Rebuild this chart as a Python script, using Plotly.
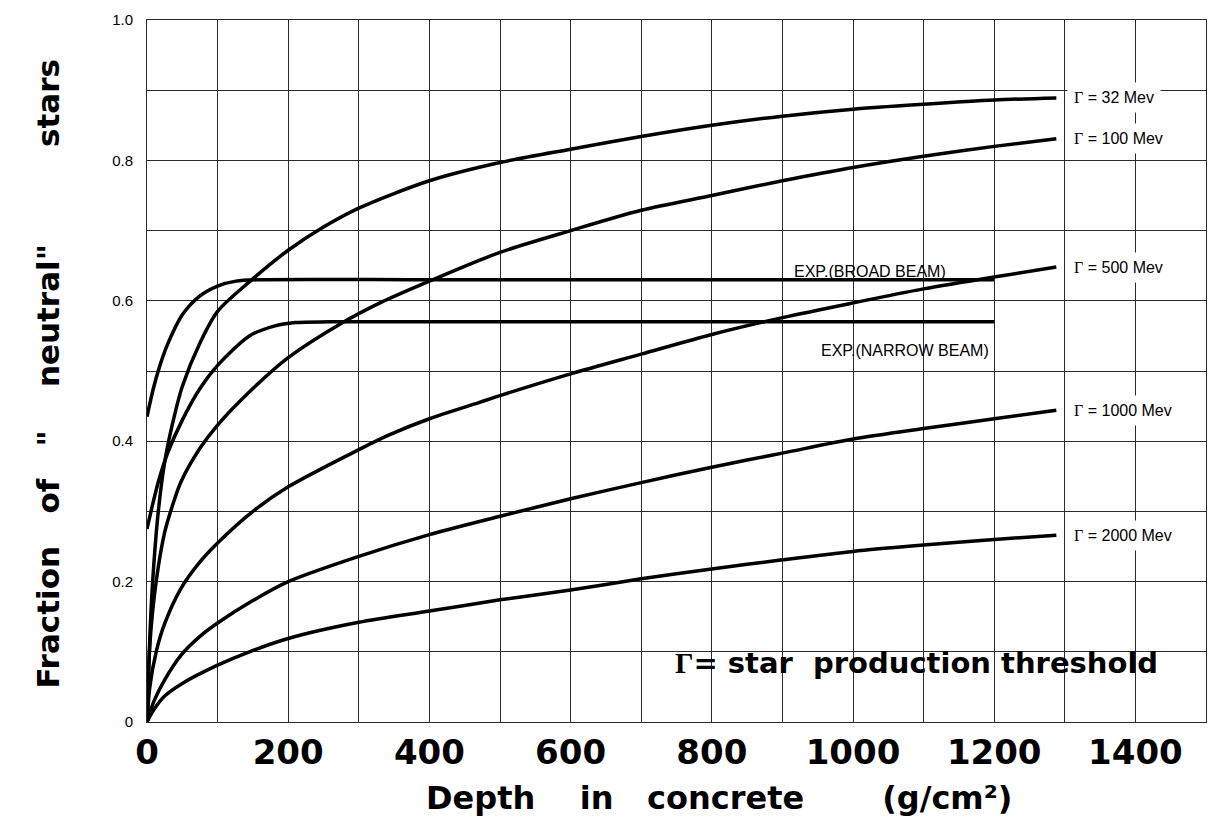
import plotly.graph_objects as go

# ---- data ----
depth_g32 = [0, 4, 8, 16, 25, 35, 50, 75, 100, 145, 200, 250, 300, 400, 500, 600, 700, 800, 900, 1000, 1100, 1200, 1288]
frac_g32 = [0, 0.12, 0.2, 0.3, 0.37, 0.42, 0.478, 0.54, 0.585, 0.627, 0.672, 0.705, 0.732, 0.771, 0.797, 0.816, 0.834, 0.850, 0.863, 0.873, 0.880, 0.886, 0.889]

depth_g100 = [0, 4, 13, 25, 35, 48, 75, 100, 150, 200, 272, 330, 400, 500, 600, 700, 800, 900, 1000, 1100, 1200, 1288]
frac_g100 = [0, 0.11, 0.2, 0.27, 0.305, 0.342, 0.39, 0.423, 0.475, 0.519, 0.566, 0.597, 0.628, 0.669, 0.700, 0.729, 0.750, 0.771, 0.790, 0.806, 0.820, 0.831]

depth_g500 = [0, 4, 13, 25, 48, 75, 100, 150, 200, 300, 343, 400, 470, 500, 600, 700, 800, 900, 1000, 1100, 1200, 1288]
frac_g500 = [0, 0.05, 0.1, 0.14, 0.19, 0.228, 0.255, 0.3, 0.335, 0.388, 0.409, 0.432, 0.455, 0.465, 0.496, 0.524, 0.552, 0.576, 0.597, 0.617, 0.634, 0.648]

depth_g1000 = [0, 10, 25, 48, 75, 100, 150, 200, 300, 400, 500, 600, 700, 800, 900, 1000, 1100, 1200, 1288]
frac_g1000 = [0, 0.03, 0.06, 0.095, 0.122, 0.141, 0.173, 0.2, 0.236, 0.267, 0.293, 0.318, 0.341, 0.363, 0.383, 0.403, 0.418, 0.432, 0.444]

depth_g2000 = [0, 10, 25, 50, 100, 145, 200, 300, 400, 500, 600, 700, 800, 900, 1000, 1100, 1200, 1288]
frac_g2000 = [0, 0.018, 0.037, 0.055, 0.081, 0.1, 0.119, 0.142, 0.158, 0.174, 0.188, 0.204, 0.218, 0.231, 0.243, 0.252, 0.26, 0.266]

depth_broad = [0, 9, 18, 30, 50, 75, 100, 126, 160, 400, 800, 1200]
frac_broad = [0.435, 0.475, 0.507, 0.54, 0.58, 0.607, 0.621, 0.628, 0.63, 0.63, 0.63, 0.63]

depth_narrow = [0, 8, 16, 30, 50, 75, 100, 145, 180, 210, 260, 500, 800, 1200]
frac_narrow = [0.275, 0.31, 0.342, 0.385, 0.43, 0.475, 0.508, 0.55, 0.564, 0.569, 0.57, 0.57, 0.57, 0.57]

threshold_labels = ["32", "100", "500", "1000", "2000"]

x_tick_vals = list(range(0, 1501, 100))
x_tick_text = ["0", "", "200", "", "400", "", "600", "", "800", "", "1000", "", "1200", "", "1400", ""]
y_tick_vals = [0, 0.1, 0.2, 0.3, 0.4, 0.5, 0.6, 0.7, 0.8, 0.9, 1.0]
y_tick_text = ["0", "", "0.2", "", "0.4", "", "0.6", "", "0.8", "", "1.0"]

# ---- figure ----
fig = go.Figure()
line_style = dict(color="black", width=3.5, shape="spline", smoothing=0.8)

gamma_series = [
    (depth_g32, frac_g32),
    (depth_g100, frac_g100),
    (depth_g500, frac_g500),
    (depth_g1000, frac_g1000),
    (depth_g2000, frac_g2000),
]
for (xs, ys), lab in zip(gamma_series, threshold_labels):
    fig.add_trace(go.Scatter(x=xs, y=ys, mode="lines", line=line_style,
                             name=f"Γ = {lab} Mev", showlegend=False, hoverinfo="skip"))
    fig.add_annotation(
        x=xs[-1] + 15, y=ys[-1], xref="x", yref="y", xanchor="left", yanchor="middle",
        text=f'<span style="font-family:Liberation Serif">Γ</span> = {lab} Mev',
        showarrow=False, bgcolor="white", borderpad=6,
        font=dict(family="Liberation Sans", size=16, color="black"),
    )

for xs, ys, nm in [(depth_broad, frac_broad, "EXP.(BROAD BEAM)"),
                   (depth_narrow, frac_narrow, "EXP.(NARROW BEAM)")]:
    fig.add_trace(go.Scatter(x=xs, y=ys, mode="lines", line=line_style,
                             name=nm, showlegend=False, hoverinfo="skip"))

fig.add_annotation(x=1024, y=0.642, xref="x", yref="y", xanchor="center", yanchor="middle",
                   text="EXP.(BROAD BEAM)", showarrow=False,
                   font=dict(family="Liberation Sans", size=16, color="black"))
fig.add_annotation(x=1074, y=0.529, xref="x", yref="y", xanchor="center", yanchor="middle",
                   text="EXP.(NARROW BEAM)", showarrow=False,
                   font=dict(family="Liberation Sans", size=16, color="black"))

fig.add_annotation(
    x=1090, y=0.084, xref="x", yref="y", xanchor="center", yanchor="middle", showarrow=False,
    text='<b><span style="font-family:Liberation Serif">Γ</span>=\u00a0star\u00a0\u00a0production\u00a0threshold</b>',
    font=dict(family="DejaVu Sans", size=29, color="black"),
)

# axis titles as annotations
fig.add_annotation(
    x=(720 - 147) / 1060, y=(722 - 799) / 707, xref="paper", yref="paper",
    xanchor="center", yanchor="middle", showarrow=False,
    text="<b>Depth\u00a0\u00a0\u00a0\u00a0in\u00a0\u00a0\u00a0concrete\u00a0\u00a0\u00a0\u00a0\u00a0\u00a0\u00a0(g/cm²)</b>",
    font=dict(family="DejaVu Sans", size=32, color="black"),
)
fig.add_annotation(
    x=(48 - 147) / 1060, y=(722 - 372) / 707, xref="paper", yref="paper",
    xanchor="center", yanchor="middle", showarrow=False,
    textangle=-90,
    text=('<b>Fraction' + '\u00a0' * 3 + 'of' + '\u00a0' * 3 + '"' + '\u00a0' * 4 + 'neutral"'
          + '\u00a0' * 9 + 'stars</b>'),
    font=dict(family="DejaVu Sans", size=31, color="black"),
)

grid_color = "#2a2a2a"
fig.update_xaxes(
    range=[0, 1500], tickvals=x_tick_vals, ticktext=x_tick_text,
    showgrid=True, gridcolor=grid_color, gridwidth=1,
    showline=True, linecolor=grid_color, linewidth=1, mirror=True,
    ticks="", zeroline=False, ticklabelstandoff=0,
    tickfont=dict(family="DejaVu Sans", size=34, color="black", weight="bold"),
)
fig.update_yaxes(
    range=[0, 1.0], tickvals=y_tick_vals, ticktext=y_tick_text,
    showgrid=True, gridcolor=grid_color, gridwidth=1,
    showline=True, linecolor=grid_color, linewidth=1, mirror=True,
    ticks="", zeroline=False, ticklabelstandoff=10,
    tickfont=dict(family="Liberation Sans", size=15, color="black"),
)

fig.update_layout(
    width=1218, height=823,
    margin=dict(l=147, r=11, t=15, b=101),
    paper_bgcolor="white", plot_bgcolor="white",
    showlegend=False,
)

fig.write_html("out.html")
